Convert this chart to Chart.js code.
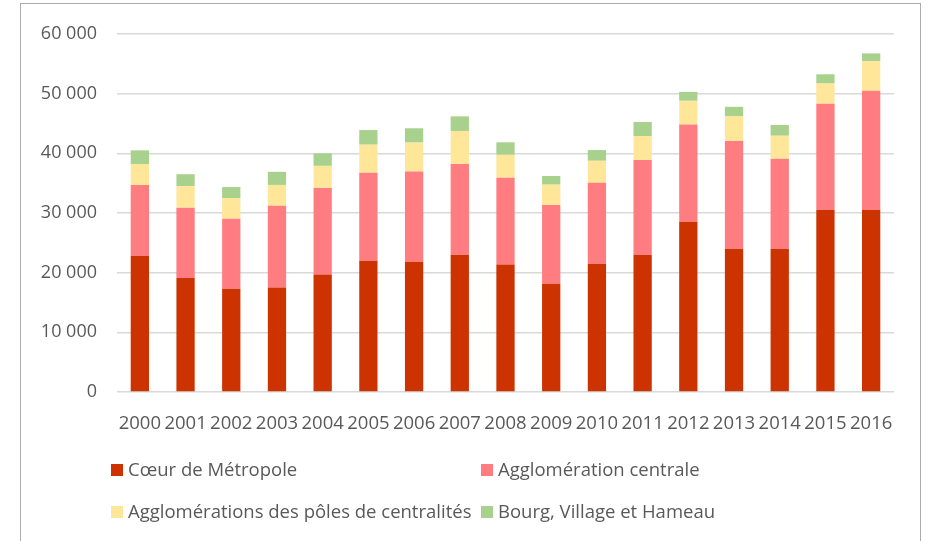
<!DOCTYPE html>
<html>
<head>
<meta charset="utf-8">
<script src="https://cdn.jsdelivr.net/npm/chart.js@4.4.1/dist/chart.umd.min.js"></script>
<style>
  html, body { margin: 0; padding: 0; background: #fff; }
  #wrap { position: relative; width: 930px; height: 541px; overflow: hidden; }
  #frame { position: absolute; left: 20px; top: 3px; width: 901px; height: 600px; border: 1px solid #acacac; box-sizing: border-box; }
  #graph { position: absolute; left: 0; top: 0; }
</style>
</head>
<body>
<div id="wrap">
  <div id="frame"></div>
  <canvas id="graph" width="930" height="541"></canvas>
</div>
<script>
const years = ['2000', '2001', '2002', '2003', '2004', '2005', '2006', '2007', '2008',
               '2009', '2010', '2011', '2012', '2013', '2014', '2015', '2016'];

// valeurs (approximatives)
const coeurMetropole = [22800, 19100, 17300, 17500, 19700, 22000, 21850, 23000, 21350,
                        18150, 21500, 23000, 28550, 24000, 24000, 30550, 30550];
const agglomerationCentrale = [11900, 11800, 11750, 13700, 14500, 14750, 15100, 15200, 14550,
                               13200, 13550, 15900, 16300, 18050, 15100, 17750, 19950];
const polesCentralites = [3500, 3600, 3450, 3500, 3700, 4700, 4850, 5550, 3850,
                          3400, 3700, 4000, 3950, 4200, 3850, 3400, 4950];
const bourgVillage = [2300, 2000, 1850, 2200, 2100, 2450, 2400, 2450, 2100,
                      1450, 1800, 2350, 1500, 1550, 1800, 1550, 1300];

const seriesNames = ['Cœur de Métropole', 'Agglomération centrale',
                     'Agglomérations des pôles de centralités', 'Bourg, Village et Hameau'];
const seriesColors = ['#CC3300', '#FF7C80', '#FFE699', '#A9D18E'];
const yTicks = [0, 10000, 20000, 30000, 40000, 50000, 60000];

const FONT = "'Open Sans', 'DejaVu Sans', sans-serif";
const TEXT = '#595959';

function formatNum(v) {
    return String(v).replace(/\B(?=(\d{3})+(?!\d))/g, ' ');
}

// légende en deux colonnes, comme dans Excel
const gridLegend = {
    id: 'gridLegend',
    afterDraw(chart) {
        const ctx = chart.ctx;
        const area = chart.chartArea;
        const cols = [area.left - 6, area.left + 364];
        const rows = [area.bottom + 78, area.bottom + 120];
        ctx.save();
        ctx.font = '18.5px ' + FONT;
        ctx.textBaseline = 'middle';
        ctx.textAlign = 'left';
        chart.data.datasets.forEach((ds, i) => {
            const x = cols[i % 2];
            const y = rows[Math.floor(i / 2)];
            ctx.fillStyle = ds.backgroundColor;
            ctx.fillRect(x, y - 6, 12, 12);
            ctx.fillStyle = TEXT;
            ctx.fillText(ds.label, x + 17, y + 1);
        });
        ctx.restore();
    }
};

const seriesData = [coeurMetropole, agglomerationCentrale, polesCentralites, bourgVillage];

var data = {
    labels: years,
    datasets: seriesData.map((vals, i) => ({
        label: seriesNames[i],
        data: vals,
        backgroundColor: seriesColors[i],
        borderWidth: 0,
        barPercentage: 0.4,
        categoryPercentage: 1
    }))
};

var options = {
    responsive: false,
    animation: false,
    layout: {
        padding: { top: 34, right: 36, bottom: 109, left: 0 }
    },
    plugins: {
        legend: { display: false },
        tooltip: { enabled: false }
    },
    scales: {
        x: {
            stacked: true,
            grid: { display: false },
            border: { display: false },
            ticks: {
                color: TEXT,
                font: { family: FONT, size: 18.5 },
                padding: 13,
                autoSkip: false,
                maxRotation: 0,
                minRotation: 0
            },
            afterFit(scale) { scale.height = 40; }
        },
        y: {
            stacked: true,
            min: 0,
            max: 60000,
            afterBuildTicks(scale) {
                scale.ticks = yTicks.map(v => ({ value: v }));
            },
            grid: {
                color: '#d9d9d9',
                lineWidth: 1.5,
                drawTicks: false
            },
            border: { display: false },
            ticks: {
                color: TEXT,
                font: { family: FONT, size: 18 },
                padding: 20,
                callback: v => formatNum(v)
            },
            afterFit(scale) { scale.width = 117; }
        }
    }
};

var graph = new Chart(document.getElementById('graph').getContext('2d'), {
    type: 'bar',
    data: data,
    options: options,
    plugins: [gridLegend]
});
</script>
</body>
</html>
